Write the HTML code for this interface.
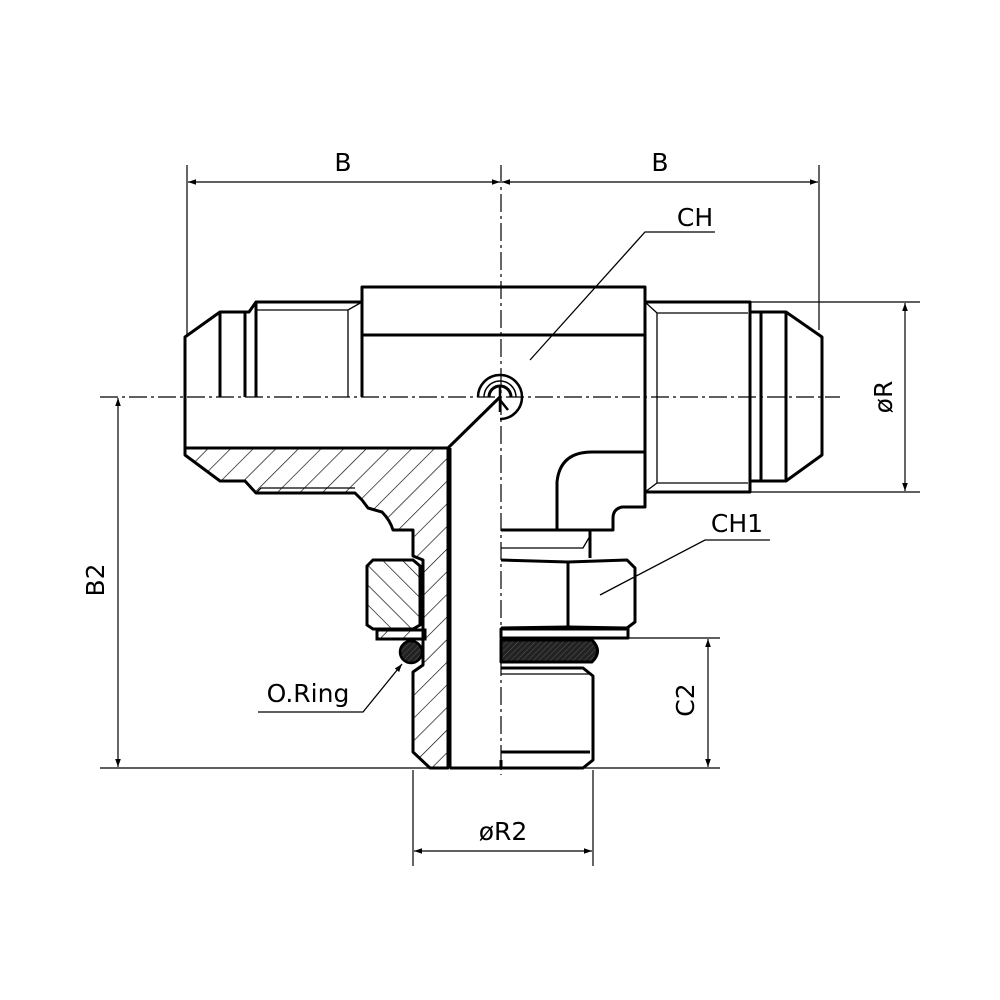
<!DOCTYPE html>
<html><head><meta charset="utf-8"><style>html,body{margin:0;padding:0;background:#fff}svg{display:block}</style></head>
<body>
<svg width="1000" height="1000" viewBox="0 0 1000 1000" xmlns="http://www.w3.org/2000/svg" font-family="'DejaVu Sans','Liberation Sans',sans-serif">
<defs>
<pattern id="h1" patternUnits="userSpaceOnUse" width="16" height="16" patternTransform="rotate(45)"><line x1="0" y1="0" x2="0" y2="16" stroke="#000" stroke-width="1.3"/></pattern>
<pattern id="h2" patternUnits="userSpaceOnUse" width="14" height="14" patternTransform="rotate(-45)"><line x1="0" y1="0" x2="0" y2="14" stroke="#000" stroke-width="1.3"/></pattern>
<pattern id="h3" patternUnits="userSpaceOnUse" width="4" height="4" patternTransform="rotate(45)"><rect width="4" height="4" fill="#222"/><line x1="0" y1="0" x2="0" y2="4" stroke="#666" stroke-width="0.8"/></pattern>
<marker id="a" viewBox="0 0 10 10" refX="10" refY="5" markerWidth="10" markerHeight="8" markerUnits="userSpaceOnUse" orient="auto-start-reverse"><path d="M0,1.5 L10,5 L0,8.5 z" fill="#000"/></marker>
</defs>
<g fill="none" stroke="#000">
<!-- centerlines -->
<line x1="100" y1="397" x2="840" y2="397" stroke-width="1.2" stroke-dasharray="18,4,3,4"/>
<line x1="501" y1="165" x2="501" y2="775" stroke-width="1.2" stroke-dasharray="18,4,3,4"/>
<!-- top dims -->
<line x1="187" y1="165" x2="187" y2="337" stroke-width="1.2"/>
<line x1="819" y1="165" x2="819" y2="330" stroke-width="1.2"/>
<line x1="188" y1="182" x2="500" y2="182" stroke-width="1.2" marker-start="url(#a)" marker-end="url(#a)"/>
<line x1="502" y1="182" x2="818" y2="182" stroke-width="1.2" marker-start="url(#a)" marker-end="url(#a)"/>
<!-- right dim -->
<line x1="750" y1="302" x2="920" y2="302" stroke-width="1.2"/>
<line x1="750" y1="492" x2="920" y2="492" stroke-width="1.2"/>
<line x1="905" y1="303" x2="905" y2="491" stroke-width="1.2" marker-start="url(#a)" marker-end="url(#a)"/>
<!-- B2 -->
<line x1="100" y1="768" x2="720" y2="768" stroke-width="1.2"/>
<line x1="118" y1="398" x2="118" y2="767" stroke-width="1.2" marker-start="url(#a)" marker-end="url(#a)"/>
<!-- C2 -->
<line x1="600" y1="638" x2="720" y2="638" stroke-width="1.2"/>
<line x1="708" y1="639" x2="708" y2="767" stroke-width="1.2" marker-start="url(#a)" marker-end="url(#a)"/>
<!-- R2 -->
<line x1="413" y1="770" x2="413" y2="866" stroke-width="1.2"/>
<line x1="593" y1="770" x2="593" y2="866" stroke-width="1.2"/>
<line x1="414" y1="851" x2="592" y2="851" stroke-width="1.2" marker-start="url(#a)" marker-end="url(#a)"/>

<!-- body -->
<g stroke-width="3" stroke-linejoin="round">
<path d="M362,397 L362,287 L645,287 L645,507 L622,507 Q613,509 613,518 L613,530 L501,530"/>
<line x1="362" y1="335" x2="645" y2="335"/>
<path d="M557,530 L557,482 Q560,452 592,452 L645,452"/>
<!-- right fitting -->
<path d="M645,302 L750,302 L750,492 L645,492"/>
<line x1="761" y1="312" x2="761" y2="482"/>
<path d="M750,312 L786,312 L822,337 L822,455 L786,481 L750,481"/>
<line x1="786" y1="312" x2="786" y2="481"/>
</g>
<g stroke-width="1.3">
<path d="M645,302 L657,313 L748,313 M645,492 L657,483 L748,483 M657,313 L657,483"/>
</g>
<!-- left fitting upper -->
<g stroke-width="3" stroke-linejoin="round">
<path d="M185,455 L185,337 L220,312 L249,312 L256,302 L362,302"/>
<line x1="220" y1="312" x2="220" y2="397"/>
<line x1="245" y1="312" x2="245" y2="397"/>
<line x1="256" y1="302" x2="256" y2="397"/>
<line x1="185" y1="448" x2="448" y2="448"/>
<line x1="448" y1="448" x2="500" y2="397"/>
</g>
<path d="M256,310 L348,310 L362,302 M348,310 L348,397" stroke-width="1.3"/>
<!-- section hatched -->
<path d="M185,448 L448,448 L448,768 L430,768 L413,752 L413,672 L423,665 L423,560 L413,556 L413,530 L393,530 Q390,520 382,512 L368,508 L362,500 L355,493 L256,493 L245,481 L220,481 L185,455 Z" fill="url(#h1)" stroke-width="3" stroke-linejoin="round"/>
<path d="M256,493 L261,488 L355,488" stroke-width="1.3"/>
<!-- bore -->
<line x1="450" y1="448" x2="450" y2="768" stroke-width="3"/>
<path d="M450,768 L501,768 L501,760" stroke-width="3"/>
<!-- nut section -->
<path d="M367,566 L373,560 L413,560 L420,566 L420,625 L413,629 L373,629 L367,625 Z" fill="url(#h2)" stroke-width="3"/>
<rect x="377" y="630" width="48" height="9" fill="url(#h1)" stroke-width="3"/>
<circle cx="411" cy="652" r="11" fill="url(#h3)" stroke-width="2.5"/>
<!-- right lower -->
<g stroke-width="3" stroke-linejoin="round">
<path d="M501,530 L590,530 L590,558"/>
<path d="M501,560 L568,562 L627,560 L635,568 L635,622 L627,628 L568,627 L501,628"/>
<line x1="568" y1="562" x2="568" y2="627"/>
<rect x="501" y="629" width="127" height="9"/>
<path d="M501,640 L592,640 Q603,651 592,662 L501,662 Z" fill="url(#h3)"/>
<path d="M501,668 L583,668 L593,676 L593,760 L583,768 L501,768"/>
<line x1="501" y1="752" x2="590" y2="752"/>
</g>
<path d="M501,548 L583,548 L590,536" stroke-width="1.3"/>
<line x1="501" y1="674" x2="590" y2="674" stroke-width="1.3"/>
<!-- symbol -->
<path d="M478,397 A22,22 0 0 1 522,397 A22,22 0 0 1 500,419" stroke-width="2.5"/>
<path d="M484,397 A16,16 0 0 1 516,397" stroke-width="1.5"/>
<path d="M489,397 A11,11 0 0 1 511,397" stroke-width="3"/>
<path d="M500,386 L500,412 M500,400 L508,410" stroke-width="2.5"/>
<!-- leaders -->
<path d="M715,232 L645,232 L530,360" stroke-width="1.3"/>
<path d="M770,540 L705,540 L600,595" stroke-width="1.3"/>
<path d="M258,712 L363,712 L402,664" stroke-width="1.3" marker-end="url(#a)"/>
</g>
<g font-size="25" fill="#000" text-anchor="middle">
<text x="343" y="171">B</text>
<text x="660" y="171">B</text>
<text x="695" y="226">CH</text>
<text x="737" y="532">CH1</text>
<text x="308" y="702">O.Ring</text>
<text x="503" y="840">øR2</text>
<text transform="translate(892,397) rotate(-90)">øR</text>
<text transform="translate(104,580) rotate(-90)">B2</text>
<text transform="translate(694,700) rotate(-90)">C2</text>
</g>
</svg>
</body></html>
